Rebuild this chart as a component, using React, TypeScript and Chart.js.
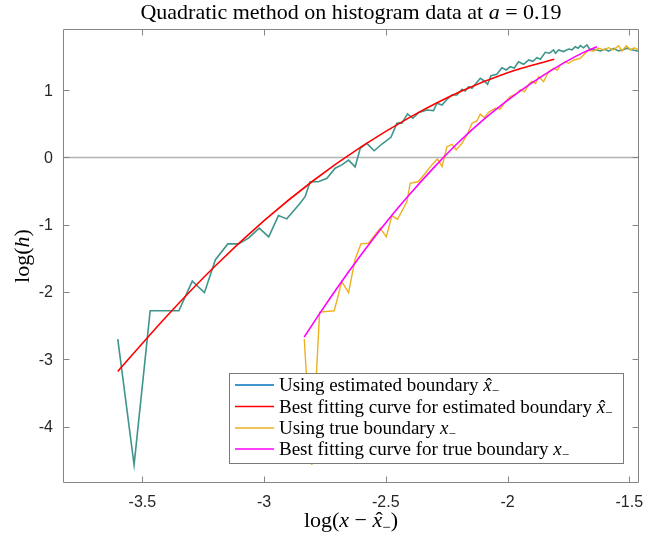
import React, { useEffect, useRef } from "react";
import { Chart, registerables } from "chart.js";

Chart.register(...registerables);

// ---------- data ----------
const xTicks = [-3.5, -3, -2.5, -2, -1.5];
const xTickLabels = ["-3.5", "-3", "-2.5", "-2", "-1.5"];
const yTicks = [-4, -3, -2, -1, 0, 1];
const yTickLabels = ["-4", "-3", "-2", "-1", "0", "1"];

const estX = [
  -3.601, -3.534, -3.468, -3.35, -3.295, -3.245, -3.2, -3.149, -3.105, -3.064,
  -3.02, -2.981, -2.941, -2.907, -2.852, -2.831, -2.811, -2.777, -2.742, -2.708,
  -2.681, -2.653, -2.626, -2.605, -2.578, -2.548, -2.516, -2.479, -2.454, -2.434,
  -2.411, -2.389, -2.364, -2.331, -2.304, -2.29, -2.269, -2.249, -2.228, -2.208,
  -2.187, -2.174, -2.16, -2.146, -2.129, -2.112, -2.096, -2.082, -2.068, -2.044,
  -2.023, -2.005, -1.989, -1.972, -1.955, -1.934, -1.913, -1.896, -1.879, -1.865,
  -1.845, -1.828, -1.811, -1.803, -1.79, -1.77, -1.749, -1.735, -1.722, -1.71,
  -1.701, -1.688, -1.674, -1.66, -1.64, -1.619, -1.6, -1.585, -1.564, -1.545,
  -1.525, -1.51, -1.49, -1.468, -1.45,
];
const estY = [
  -2.7, -4.57, -2.28, -2.28, -1.84, -2.01, -1.52, -1.285, -1.285, -1.2,
  -1.05, -1.18, -0.864, -0.913, -0.68, -0.58, -0.36, -0.36, -0.31, -0.16,
  -0.11, -0.04, -0.14, 0.137, 0.21, 0.1, 0.2, 0.3, 0.51, 0.51,
  0.647, 0.583, 0.67, 0.706, 0.696, 0.806, 0.78, 0.865, 0.929, 0.929,
  1.014, 0.99, 1.053, 1.029, 1.103, 1.177, 1.137, 1.088, 1.216, 1.237,
  1.335, 1.301, 1.35, 1.33, 1.424, 1.385, 1.449, 1.43, 1.484, 1.46,
  1.563, 1.55, 1.598, 1.55, 1.598, 1.575, 1.613, 1.6, 1.647, 1.625,
  1.662, 1.63, 1.672, 1.598, 1.605, 1.583, 1.61, 1.58, 1.623, 1.585,
  1.6, 1.625, 1.6, 1.583, 1.59,
];

const fitEstX = [-3.601, -3.4, -3.2, -3.0, -2.8, -2.6, -2.4, -2.2, -2.0, -1.808];
const fitEstY = [-3.18, -2.36, -1.61, -0.94, -0.35, 0.16, 0.6, 0.97, 1.26, 1.46];

const trueX = [
  -2.835, -2.804, -2.772, -2.712, -2.681, -2.653, -2.626, -2.602, -2.571, -2.523,
  -2.498, -2.475, -2.452, -2.413, -2.4, -2.366, -2.338, -2.311, -2.288, -2.269,
  -2.249, -2.228, -2.211, -2.187, -2.167, -2.146, -2.126, -2.112, -2.096, -2.078,
  -2.05, -2.03, -2.009, -1.989, -1.961, -1.948, -1.93, -1.913, -1.9, -1.885,
  -1.872, -1.852, -1.831, -1.811, -1.795, -1.783, -1.765, -1.749, -1.728, -1.701,
  -1.681, -1.667, -1.648, -1.626, -1.605, -1.585, -1.565, -1.544, -1.53, -1.512,
  -1.495, -1.48, -1.461, -1.45,
];
const trueY = [
  -2.7, -4.57, -2.3, -2.28, -1.845, -2.01, -1.51, -1.285, -1.275, -1.05,
  -1.18, -0.869, -0.918, -0.656, -0.383, -0.358, -0.234, -0.111, -0.022, -0.136,
  0.161, 0.196, 0.112, 0.211, 0.335, 0.509, 0.543, 0.643, 0.593, 0.672,
  0.732, 0.721, 0.83, 0.904, 0.954, 1.004, 0.98, 1.088, 1.13, 1.1,
  1.2, 1.127, 1.276, 1.326, 1.3, 1.375, 1.42, 1.4, 1.449, 1.474,
  1.549, 1.598, 1.58, 1.623, 1.6, 1.632, 1.6, 1.662, 1.583, 1.662,
  1.6, 1.63, 1.598, 1.6,
];

const fitTrueX = [-2.835, -2.77, -2.7, -2.6, -2.5, -2.4, -2.3, -2.2, -2.1, -2.0, -1.9, -1.8, -1.7, -1.633];
const fitTrueY = [-2.67, -2.31, -1.94, -1.44, -0.97, -0.54, -0.14, 0.23, 0.56, 0.85, 1.11, 1.34, 1.54, 1.647];

const seriesLabels = [
  "Using estimated boundary",
  "Best fitting curve for estimated boundary",
  "Using true boundary",
  "Best fitting curve for true boundary",
];

// ---------- helpers ----------
const SERIF = '"Liberation Serif", "Times New Roman", serif';
const SANS = '"Liberation Sans", Arial, sans-serif';
type Part = { t: string; it?: boolean; sub?: boolean; hat?: boolean };

function fontOf(p: Part, size: number) {
  const s = p.sub ? Math.round(size * 0.7) : size;
  return `${p.it ? "italic " : ""}${s}px ${SERIF}`;
}

function richWidth(ctx: CanvasRenderingContext2D, parts: Part[], size: number) {
  let w = 0;
  for (const p of parts) {
    ctx.font = fontOf(p, size);
    w += ctx.measureText(p.t).width;
  }
  return w;
}

function drawRich(
  ctx: CanvasRenderingContext2D,
  parts: Part[],
  x: number,
  y: number,
  size: number,
  align: "left" | "center"
) {
  const w = richWidth(ctx, parts, size);
  let cx = align === "center" ? x - w / 2 : x;
  ctx.textAlign = "left";
  ctx.textBaseline = "alphabetic";
  ctx.fillStyle = "#000";
  for (const p of parts) {
    ctx.font = fontOf(p, size);
    const pw = ctx.measureText(p.t).width;
    ctx.fillText(p.t, cx, y + (p.sub ? size * 0.22 : 0));
    if (p.hat) {
      ctx.font = `${size}px ${SERIF}`;
      const hw = ctx.measureText("\u02C6").width;
      ctx.fillText("\u02C6", cx + pw / 2 - hw / 2 + size * 0.08, y + size * 0.02);
    }
    cx += pw;
  }
}

const xhatSub: Part[] = [{ t: "x", it: true, hat: true }, { t: "\u2212", sub: true }];
const xSub: Part[] = [{ t: "x", it: true }, { t: "\u2212", sub: true }];

const legendColors = ["#0072BD", "#FF0000", "#EDB120", "#FF00FF"];
const legendTexts: Part[][] = [
  [{ t: seriesLabels[0] + " " }, ...xhatSub],
  [{ t: seriesLabels[1] + " " }, ...xhatSub],
  [{ t: seriesLabels[2] + " " }, ...xSub],
  [{ t: seriesLabels[3] + " " }, ...xSub],
];

const deco = {
  id: "deco",
  beforeDatasetsDraw(chart: any) {
    const { ctx, chartArea: a, scales } = chart;
    const py = Math.round(scales.y.getPixelForValue(0)) + 0.5;
    ctx.save();
    ctx.strokeStyle = "#b4b4b4";
    ctx.lineWidth = 1.5;
    ctx.beginPath();
    ctx.moveTo(a.left, py);
    ctx.lineTo(a.right, py);
    ctx.stroke();
    ctx.restore();
  },
  afterDatasetsDraw(chart: any) {
    const { ctx, chartArea: a, scales } = chart;
    const L = Math.round(a.left) + 0.5;
    const R = Math.round(a.right) - 0.5;
    const T = Math.round(a.top) + 0.5;
    const B = Math.round(a.bottom) - 0.5;
    const tl = 6;
    ctx.save();
    ctx.strokeStyle = "#858585";
    ctx.lineWidth = 1;
    ctx.beginPath();
    ctx.rect(L, T, R - L, B - T);
    for (const v of xTicks) {
      const px = Math.round(scales.x.getPixelForValue(v)) + 0.5;
      ctx.moveTo(px, B);
      ctx.lineTo(px, B - tl);
      ctx.moveTo(px, T);
      ctx.lineTo(px, T + tl);
    }
    for (const v of yTicks) {
      const py = Math.round(scales.y.getPixelForValue(v)) + 0.5;
      ctx.moveTo(L, py);
      ctx.lineTo(L + tl, py);
      ctx.moveTo(R, py);
      ctx.lineTo(R - tl, py);
    }
    ctx.stroke();
    // y tick labels
    ctx.fillStyle = "#262626";
    ctx.font = `16px ${SANS}`;
    ctx.textAlign = "right";
    ctx.textBaseline = "middle";
    yTicks.forEach((v, i) => {
      ctx.fillText(yTickLabels[i], a.left - 10, scales.y.getPixelForValue(v) + 1);
    });
    ctx.restore();
  },
  afterDraw(chart: any) {
    const { ctx, chartArea: a } = chart;
    ctx.save();
    // title
    drawRich(
      ctx,
      [{ t: "Quadratic method on histogram data at " }, { t: "a", it: true }, { t: " = 0.19" }],
      (a.left + a.right) / 2,
      19,
      22,
      "center"
    );
    // x axis title
    drawRich(
      ctx,
      [{ t: "log(" }, { t: "x", it: true }, { t: " \u2212 " }, ...xhatSub, { t: ")" }],
      (a.left + a.right) / 2,
      527,
      22,
      "center"
    );
    // y axis title
    ctx.save();
    ctx.translate(29, (a.top + a.bottom) / 2);
    ctx.rotate(-Math.PI / 2);
    drawRich(ctx, [{ t: "log(" }, { t: "h", it: true }, { t: ")" }], 0, 0, 22, "center");
    ctx.restore();

    // legend box
    const bx = 229.5, by = 373.5, bw = 394, bh = 90;
    ctx.fillStyle = "#fff";
    ctx.fillRect(bx, by, bw, bh);
    ctx.strokeStyle = "#7a7a7a";
    ctx.lineWidth = 1;
    ctx.strokeRect(bx, by, bw, bh);
    const rows = [385, 406.5, 428, 449];
    legendTexts.forEach((parts, i) => {
      const ry = rows[i];
      ctx.strokeStyle = legendColors[i];
      ctx.lineWidth = 1.5;
      ctx.beginPath();
      ctx.moveTo(235, ry);
      ctx.lineTo(274, ry);
      ctx.stroke();
      drawRich(ctx, parts, 279, ry + 6, 19, "left");
    });
    ctx.restore();
  },
};

function toPoints(xs: number[], ys: number[]) {
  return xs.map((x, i) => ({ x, y: ys[i] }));
}

export default function App() {
  const ref = useRef<HTMLCanvasElement | null>(null);

  useEffect(() => {
    document.body.style.margin = "0";
    const canvas = ref.current;
    if (!canvas) return;
    const chart = new Chart(canvas, {
      type: "line",
      data: {
        datasets: [
          {
            label: seriesLabels[0],
            data: toPoints(estX, estY),
            borderColor: "#3f958b",
            borderWidth: 1.6,
            pointRadius: 0,
            tension: 0,
            order: 4,
          },
          {
            label: seriesLabels[1],
            data: toPoints(fitEstX, fitEstY),
            borderColor: "#FF0000",
            borderWidth: 1.6,
            pointRadius: 0,
            cubicInterpolationMode: "monotone",
            order: 3,
          },
          {
            label: seriesLabels[2],
            data: toPoints(trueX, trueY),
            borderColor: "#EDB120",
            borderWidth: 1.4,
            pointRadius: 0,
            tension: 0,
            order: 2,
          },
          {
            label: seriesLabels[3],
            data: toPoints(fitTrueX, fitTrueY),
            borderColor: "#FF00FF",
            borderWidth: 1.6,
            pointRadius: 0,
            cubicInterpolationMode: "monotone",
            order: 1,
          },
        ] as any,
      },
      options: {
        animation: false,
        responsive: true,
        maintainAspectRatio: false,
        layout: { padding: { left: 0, right: 6, top: 29, bottom: 0 } },
        plugins: {
          legend: { display: false },
          title: { display: false },
          tooltip: { enabled: false },
        },
        scales: {
          x: {
            type: "linear",
            min: -3.826,
            max: -1.46,
            grid: { display: false },
            border: { display: false },
            afterBuildTicks: (s: any) => {
              s.ticks = xTicks.map((v) => ({ value: v }));
            },
            afterFit: (s: any) => {
              s.height = 54;
              s.paddingLeft = 0;
              s.paddingRight = 0;
            },
            ticks: {
              padding: 2,
              maxRotation: 0,
              autoSkip: false,
              color: "#262626",
              font: { family: SANS, size: 16 },
              callback: (v: any) => {
                const i = xTicks.indexOf(Number(v));
                return i >= 0 ? xTickLabels[i] : "";
              },
            },
          },
          y: {
            type: "linear",
            min: -4.84,
            max: 1.91,
            grid: { display: false },
            border: { display: false },
            afterBuildTicks: (s: any) => {
              s.ticks = yTicks.map((v) => ({ value: v }));
            },
            afterFit: (s: any) => {
              s.width = 63;
            },
            ticks: { display: false },
          },
        },
      },
      plugins: [deco],
    });
    return () => chart.destroy();
  }, []);

  return (
    <div style={{ position: "relative", width: 645, height: 537 }}>
      <canvas ref={ref} />
    </div>
  );
}
